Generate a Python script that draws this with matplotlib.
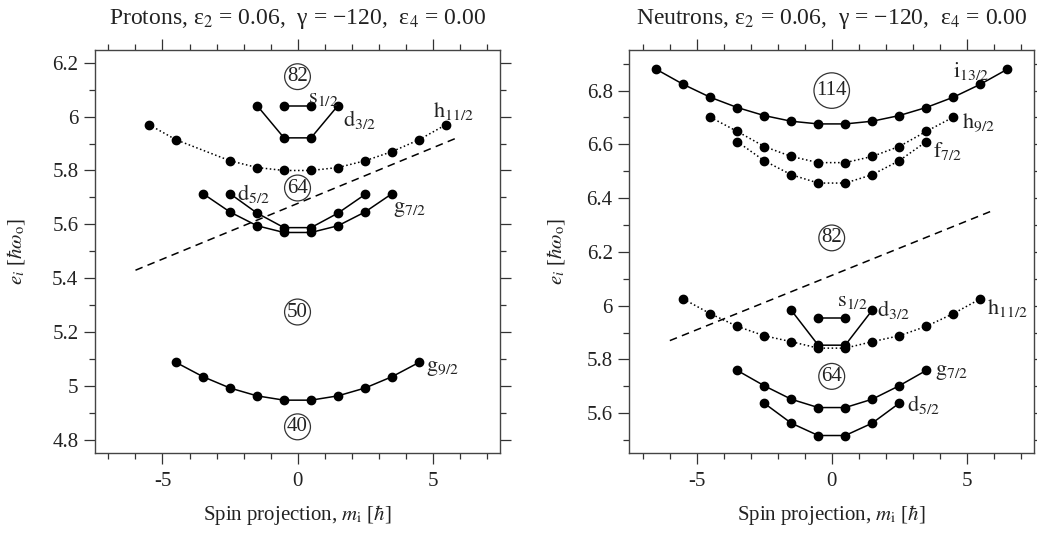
import numpy as np
import matplotlib
matplotlib.use("Agg")
import matplotlib.pyplot as plt
from matplotlib.ticker import MultipleLocator

plt.rcParams['font.family'] = ['Liberation Serif', 'DejaVu Serif']
plt.rcParams['mathtext.fontset'] = 'stix'
plt.rcParams['axes.unicode_minus'] = False

# ---- Protons ----
p_g92_m = [-4.5, -3.5, -2.5, -1.5, -0.5, 0.5, 1.5, 2.5, 3.5, 4.5]
p_g92_e = [5.088, 5.035, 4.993, 4.964, 4.948, 4.948, 4.964, 4.993, 5.035, 5.088]
p_g72_m = [-3.5, -2.5, -1.5, -0.5, 0.5, 1.5, 2.5, 3.5]
p_g72_e = [5.714, 5.646, 5.595, 5.570, 5.570, 5.595, 5.646, 5.714]
p_d52_m = [-2.5, -1.5, -0.5, 0.5, 1.5, 2.5]
p_d52_e = [5.714, 5.642, 5.588, 5.588, 5.642, 5.711]
p_h112_m = [-5.5, -4.5, -2.5, -1.5, -0.5, 0.5, 1.5, 2.5, 3.5, 4.5, 5.5]
p_h112_e = [5.970, 5.914, 5.836, 5.811, 5.800, 5.800, 5.811, 5.836, 5.870, 5.914, 5.970]
p_d32_m = [-1.5, -0.5, 0.5, 1.5]
p_d32_e = [6.041, 5.921, 5.921, 6.041]
p_s12_m = [-0.5, 0.5]
p_s12_e = [6.038, 6.038]
p_fermi_x = [-6.0, 6.0]
p_fermi_e = [5.430, 5.925]

# ---- Neutrons ----
n_i132_m = [-6.5, -5.5, -4.5, -3.5, -2.5, -1.5, -0.5, 0.5, 1.5, 2.5, 3.5, 4.5, 5.5, 6.5]
n_i132_e = [6.879, 6.823, 6.775, 6.737, 6.707, 6.686, 6.676,
            6.676, 6.686, 6.707, 6.737, 6.775, 6.823, 6.879]
n_h92_m = [-4.5, -3.5, -2.5, -1.5, -0.5, 0.5, 1.5, 2.5, 3.5, 4.5]
n_h92_e = [6.701, 6.648, 6.592, 6.555, 6.532, 6.532, 6.555, 6.592, 6.648, 6.701]
n_f72_m = [-3.5, -2.5, -1.5, -0.5, 0.5, 1.5, 2.5, 3.5]
n_f72_e = [6.610, 6.539, 6.487, 6.456, 6.456, 6.487, 6.539, 6.610]
n_h112_m = [-5.5, -4.5, -3.5, -2.5, -1.5, -0.5, 0.5, 1.5, 2.5, 3.5, 4.5, 5.5]
n_h112_e = [6.025, 5.970, 5.923, 5.888, 5.866, 5.842,
            5.842, 5.866, 5.888, 5.923, 5.970, 6.025]
n_s12_m = [-0.5, 0.5]
n_s12_e = [5.954, 5.954]
n_d32_m = [-1.5, -0.5, 0.5, 1.5]
n_d32_e = [5.983, 5.853, 5.853, 5.983]
n_g72_m = [-3.5, -2.5, -1.5, -0.5, 0.5, 1.5, 2.5, 3.5]
n_g72_e = [5.759, 5.702, 5.652, 5.621, 5.621, 5.652, 5.702, 5.759]
n_d52_m = [-2.5, -1.5, -0.5, 0.5, 1.5, 2.5]
n_d52_e = [5.637, 5.563, 5.517, 5.517, 5.563, 5.637]
n_fermi_x = [-6.0, 6.0]
n_fermi_e = [5.870, 6.355]

fig = plt.figure(figsize=(10.37, 5.34), dpi=100)
axp = fig.add_axes([0.0916, 0.1517, 0.3906, 0.7547])
axn = fig.add_axes([0.6069, 0.1517, 0.3903, 0.7547])


def level(ax, m, e, ls='-'):
    ax.plot(m, e, color='black', ls=ls, lw=1.1, marker='o', ms=6,
            mfc='black', mec='black')


def label(ax, x, y, name, sub):
    ax.text(x, y, r'$\mathrm{%s}_{%s}$' % (name, sub), fontsize=16,
            ha='left', va='center', color='#222222')


def magic(ax, y, num):
    ax.text(0, y, num, fontsize=15, ha='center', va='center', color='#222222',
            bbox=dict(boxstyle='circle,pad=0.12', fc='none', ec='#333333', lw=0.9))


# Protons
level(axp, p_g92_m, p_g92_e)
level(axp, p_g72_m, p_g72_e)
level(axp, p_d52_m, p_d52_e)
level(axp, p_h112_m, p_h112_e, ':')
level(axp, p_d32_m, p_d32_e)
level(axp, p_s12_m, p_s12_e)
axp.plot(p_fermi_x, p_fermi_e, color='black', ls=(0, (5, 3.5)), lw=1.1)
label(axp, 0.39, 6.068, 's', '1/2')
label(axp, 1.69, 5.99, 'd', '3/2')
label(axp, 5.0, 6.02, 'h', '11/2')
label(axp, -2.23, 5.716, 'd', '5/2')
label(axp, 3.53, 5.656, 'g', '7/2')
label(axp, 4.77, 5.067, 'g', '9/2')
magic(axp, 6.148, '82')
magic(axp, 5.735, '64')
magic(axp, 5.275, '50')
magic(axp, 4.849, '40')
axp.set_ylim(4.752, 6.247)

# Neutrons
level(axn, n_i132_m, n_i132_e)
level(axn, n_h92_m, n_h92_e, ':')
level(axn, n_f72_m, n_f72_e, ':')
level(axn, n_h112_m, n_h112_e, ':')
level(axn, n_d32_m, n_d32_e)
level(axn, n_s12_m, n_s12_e)
level(axn, n_g72_m, n_g72_e)
level(axn, n_d52_m, n_d52_e)
axn.plot(n_fermi_x, n_fermi_e, color='black', ls=(0, (5, 3.5)), lw=1.1)
label(axn, 4.48, 6.874, 'i', '13/2')
label(axn, 4.81, 6.68, 'h', '9/2')
label(axn, 3.77, 6.574, 'f', '7/2')
label(axn, 0.19, 6.016, 's', '1/2')
label(axn, 1.69, 5.985, 'd', '3/2')
label(axn, 5.74, 5.99, 'h', '11/2')
label(axn, 3.83, 5.751, 'g', '7/2')
label(axn, 2.78, 5.631, 'd', '5/2')
magic(axn, 6.80, '114')
magic(axn, 6.252, '82')
magic(axn, 5.737, '64')
axn.set_ylim(5.452, 6.951)

titles = ['Protons, ε$_2$ = 0.06,  γ = −120,  ε$_4$ = 0.00',
          'Neutrons, ε$_2$ = 0.06,  γ = −120,  ε$_4$ = 0.00']
ypads = [18, 14]
for ax, t, yp in zip([axp, axn], titles, ypads):
    ax.set_xlim(-7.5, 7.5)
    ax.xaxis.set_major_locator(MultipleLocator(5))
    ax.xaxis.set_minor_locator(MultipleLocator(1))
    ax.yaxis.set_major_locator(MultipleLocator(0.2))
    ax.yaxis.set_minor_locator(MultipleLocator(0.1))
    ax.yaxis.set_major_formatter(plt.FuncFormatter(lambda v, p: ('%.1f' % v).rstrip('0').rstrip('.')))
    ax.tick_params(which='both', direction='out', top=True, right=True,
                   labeltop=False, labelright=False, colors='#333333',
                   labelcolor='#222222', labelsize=15)
    ax.tick_params(which='major', length=8, width=0.9, pad=4)
    ax.tick_params(which='minor', length=4.5, width=0.9)
    ax.tick_params(axis='x', which='major', pad=6)
    for s in ax.spines.values():
        s.set_color('#444444')
        s.set_linewidth(1.0)
    pos = ax.get_position()
    fig.text((pos.x0 + pos.x1) / 2, 1 - 19 / 534, t, fontsize=17,
             ha='center', va='center', color='#222222')
    ax.set_xlabel(r'Spin projection, $m_\mathrm{i}$ [$\hbar$]', fontsize=15, labelpad=8,
                  color='#222222')
    ax.set_ylabel(r'$e_i$ [$\hbar\omega_\mathrm{o}$]', fontsize=15, labelpad=yp,
                  color='#222222')

fig.savefig('out.png', dpi=100)
